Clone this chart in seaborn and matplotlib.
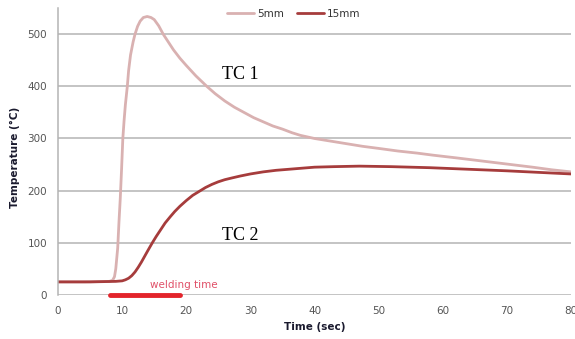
import matplotlib
matplotlib.use("Agg")
import matplotlib.pyplot as plt
import numpy as np
import pandas as pd
import seaborn as sns

# thermocouple readings
time_5mm = [0, 4, 8, 8.5, 8.8, 9, 9.3, 9.5, 9.7, 9.9, 10.1, 10.3, 10.5, 10.8, 11.0, 11.3, 11.7,
            12, 12.4, 12.8, 13.3, 13.9, 14.5, 15, 15.7, 16.4, 17.2, 18, 19, 20, 21.5, 23.2,
            24.5, 26, 27.5, 29, 30.5, 32, 33.5, 35, 36.5, 37.8, 40, 42.5, 45, 47.5, 50, 53,
            56, 58.5, 62, 66, 70, 74, 77, 80]
temp_5mm = [25, 25, 26, 28, 35, 50, 90, 140, 185, 240, 300, 335, 365, 400, 430, 460, 485,
            500, 515, 525, 532, 534, 532, 528, 516, 500, 485, 470, 454, 440, 420, 400,
            386, 372, 360, 350, 340, 332, 324, 318, 311, 306, 300, 295, 290, 285, 281, 276,
            272, 268, 263, 257, 251, 245, 240, 236]

time_15mm = [0, 5, 9, 10, 10.5, 11, 11.5, 12, 12.5, 13, 13.5, 14, 14.7, 15.3, 16, 16.7, 17.5,
             18.2, 19, 20, 21, 22.2, 23, 24, 25, 26, 27, 28.4, 30, 32, 34, 36, 38, 40, 43,
             47, 52, 58, 64, 70, 75, 80]
temp_15mm = [25, 25, 26, 27, 29, 32, 37, 44, 53, 63, 74, 85, 100, 112, 125, 138, 150,
             160, 170, 181, 191, 200, 206, 212, 217, 221, 224, 228, 232, 236, 239, 241, 243,
             245, 246, 247, 246, 244, 241, 238, 235, 232]

series_names = ["5mm", "15mm"]
weld_start, weld_end = 8.1, 19.0

df = pd.concat([
    pd.DataFrame({"time": time_5mm, "temp": temp_5mm, "series": "5mm"}),
    pd.DataFrame({"time": time_15mm, "temp": temp_15mm, "series": "15mm"}),
])

sns.set_style("white")
fig = plt.figure(figsize=(5.75, 3.39), dpi=100)
ax = fig.add_axes([0.101, 0.13, 0.892, 0.846])

palette = {"5mm": "#d9b1b1", "15mm": "#a63c3c"}
sns.lineplot(data=df, x="time", y="temp", hue="series", hue_order=series_names,
             palette=palette, linewidth=2, ax=ax, legend=False, sort=False)

ax.set_xlim(0, 80)
ax.set_ylim(0, 550)
ax.set_xticks(np.arange(0, 81, 10))
ax.set_yticks(np.arange(0, 501, 100))
ax.yaxis.grid(True, color="#b4b4b4", linewidth=1.1)
ax.set_axisbelow(True)
for side in ["top", "right", "bottom"]:
    ax.spines[side].set_visible(False)
ax.spines["left"].set_color("#b4b4b4")
ax.spines["left"].set_linewidth(1.1)
ax.tick_params(axis="both", length=0, labelsize=7.5, labelcolor="#555555", pad=8)

ax.set_xlabel("Time (sec)", fontsize=7.5, fontweight="bold", color="#1a1a2e", labelpad=4)
ax.set_ylabel("Temperature (°C)", fontsize=7.5, fontweight="bold", color="#1a1a2e", labelpad=5)
ax.yaxis.set_label_coords(-0.075, 0.48)

# welding period bar under the axis
ax.plot([weld_start, weld_end], [0, 0], color="#e3242b", linewidth=3.5,
        solid_capstyle="round", clip_on=False, zorder=5)
ax.text(14.3, 14, "welding time", fontsize=7.5, color="#e05068")

ax.text(25.5, 415, "TC 1", fontsize=13, family="Liberation Serif", color="black")
ax.text(25.5, 105, "TC 2", fontsize=13, family="Liberation Serif", color="black")

handles = [plt.Line2D([], [], color=palette[s], linewidth=2) for s in series_names]
ax.legend(handles, series_names, loc="upper center", bbox_to_anchor=(0.46, 1.03),
          ncol=2, frameon=False, fontsize=7.5, handlelength=2.6, handletextpad=0.3,
          columnspacing=1.2, labelcolor="#333333")

fig.savefig("out.png", dpi=100)
